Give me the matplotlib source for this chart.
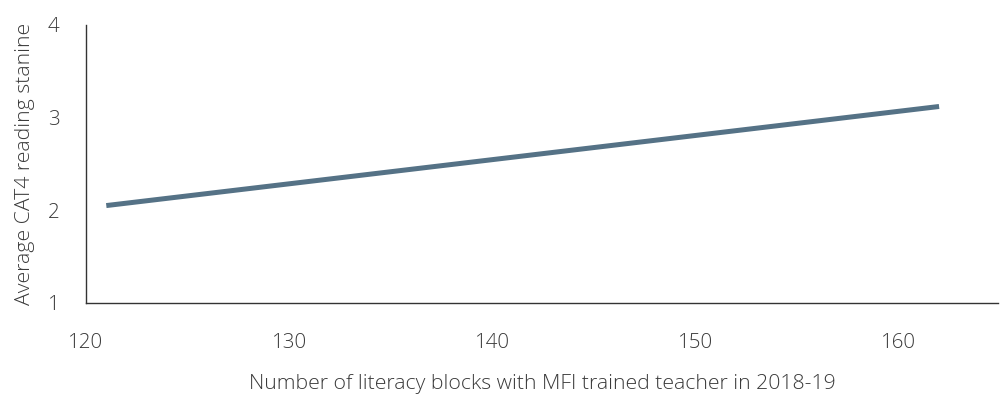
import matplotlib
matplotlib.use("Agg")
import matplotlib.pyplot as plt

# trend line endpoints
blocks = [121, 162]
stanine = [2.05, 3.12]

x_ticks = [120, 130, 140, 150, 160]
y_ticks = [1, 2, 3, 4]

plt.rcParams['font.family'] = ['Open Sans', 'DejaVu Sans']
plt.rcParams['font.weight'] = 'light'
text_color = '#3a3a3a'

fig = plt.figure(figsize=(10.02, 4.0), dpi=100)
ax = fig.add_axes([0.0858, 0.243, 0.9102, 0.6945])

ax.plot(blocks, stanine, color='#557286', linewidth=3.6, solid_capstyle='butt')

ax.set_xlim(120.25, 164.9)
ax.set_ylim(1, 4)
ax.set_xticks(x_ticks)
ax.set_yticks(y_ticks)
ax.tick_params(axis='both', length=0, labelsize=14.8, labelcolor=text_color)
ax.tick_params(axis='x', pad=22)
ax.tick_params(axis='y', pad=19)

for side in ['top', 'right']:
    ax.spines[side].set_visible(False)
for side in ['left', 'bottom']:
    ax.spines[side].set_color('#333333')
    ax.spines[side].set_linewidth(1.0)

ax.set_xlabel("Number of literacy blocks with MFI trained teacher in 2018-19",
              fontsize=15.3, fontweight='light', color=text_color, labelpad=15)
ax.set_ylabel("Average CAT4 reading stanine", fontsize=15.3, fontweight='light',
              color=text_color, labelpad=9)

fig.savefig("out.png", dpi=100)
